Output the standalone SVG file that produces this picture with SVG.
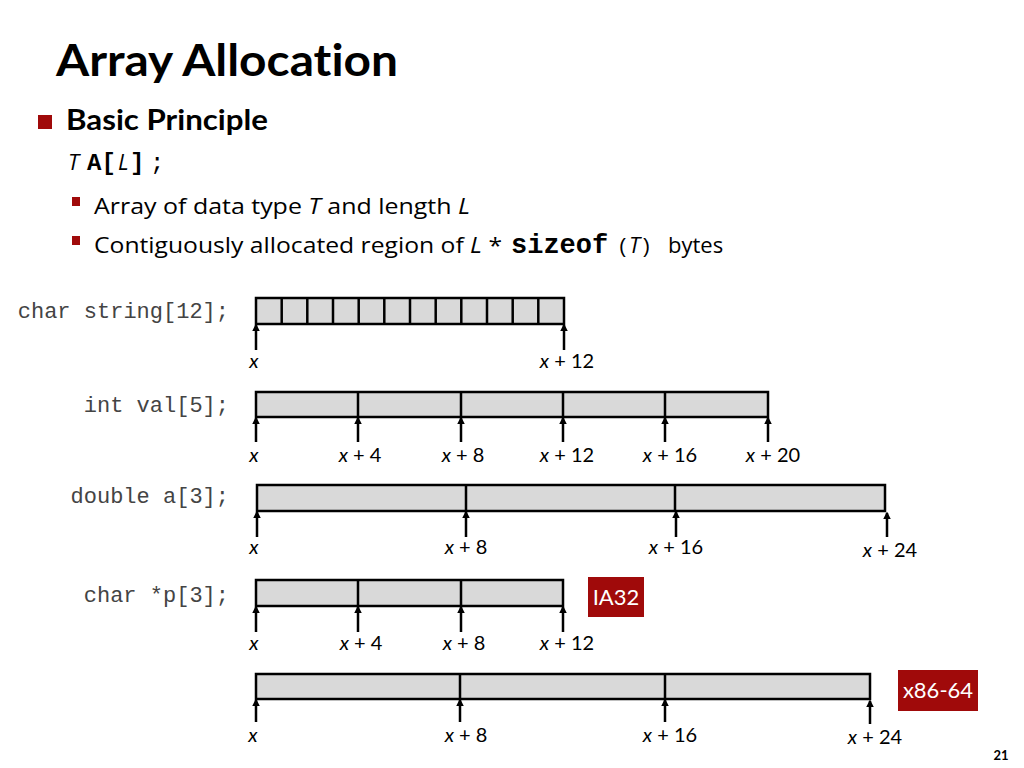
<svg xmlns="http://www.w3.org/2000/svg" width="1024" height="768" viewBox="0 0 1024 768">
<style>
text{font-variant-ligatures:none}
.sans{font-family:Lato,"Open Sans","Liberation Sans",sans-serif;fill:#000}
.body{font-family:"Open Sans","Noto Sans","Liberation Sans",sans-serif;fill:#000}
.mono{font-family:"Liberation Mono","Courier New",monospace}
.code{font-family:"Liberation Mono","Courier New",monospace;font-size:22px;fill:#444;text-anchor:end}
.lbl{font-family:Lato,"Open Sans","Liberation Sans",sans-serif;font-size:20px;text-anchor:middle;fill:#000}
.it{font-style:italic}
.box{fill:#D9D9D9;stroke:#000;stroke-width:2.5}
.div{stroke:#000;stroke-width:2.5}
.arr{stroke:#000;stroke-width:2.5;marker-end:url(#ah)}
.tag{fill:#A00A0A}
.tagt{font-family:Lato,"Open Sans","Liberation Sans",sans-serif;font-size:22px;fill:#fff;text-anchor:middle}
</style>
<defs>
<marker id="ah" viewBox="0 0 10 10" refX="8" refY="5" markerWidth="3" markerHeight="3" orient="auto" markerUnits="strokeWidth">
<path d="M0,0 L10,5 L0,10 z" fill="#000"/>
</marker>
</defs>
<rect width="1024" height="768" fill="#fff"/>

<g id="title">
<text class="sans" x="56" y="76" font-size="43" font-weight="bold" textLength="342" lengthAdjust="spacingAndGlyphs">Array Allocation</text>
</g>
<g id="bullets">
<rect x="38" y="115" width="14" height="14" fill="#A00A0A"/>
<text class="sans" x="66" y="130" font-size="29" font-weight="bold" textLength="202" lengthAdjust="spacingAndGlyphs">Basic Principle</text>
<text x="68" y="170" font-size="24"><tspan class="body it" font-size="22">T</tspan><tspan class="mono" font-weight="bold" x="87">A[</tspan><tspan class="body it" font-size="22" x="118">L</tspan><tspan class="mono" font-weight="bold" x="130">]</tspan><tspan class="mono" x="150">;</tspan></text>
<rect x="72" y="197" width="8" height="9" fill="#A00A0A"/>
<text class="body" x="94" y="214" font-size="22" textLength="376" lengthAdjust="spacingAndGlyphs">Array of data type <tspan class="it">T</tspan> and length <tspan class="it">L</tspan></text>
<rect x="72" y="236" width="8" height="9" fill="#A00A0A"/>
<text class="body" x="94" y="253" font-size="22"><tspan textLength="408" lengthAdjust="spacingAndGlyphs">Contiguously allocated region of <tspan class="it">L</tspan> *</tspan><tspan class="mono" font-weight="bold" font-size="27" x="511">sizeof</tspan><tspan class="mono" font-size="20" x="617">(</tspan><tspan class="it" x="629">T</tspan><tspan class="mono" font-size="20" x="640">)</tspan><tspan x="668">bytes</tspan></text>
</g>

<g id="row-string">
<text class="code" x="229" y="318">char string[12];</text>
<rect class="box" x="256" y="298" width="308" height="26"/>
<path class="div" d="M281.7,298V324M307.3,298V324M333,298V324M358.7,298V324M384.3,298V324M410,298V324M435.7,298V324M461.3,298V324M487,298V324M512.7,298V324M538.3,298V324"/>
<text class="lbl" x="254" y="368"><tspan class="it">x</tspan></text>
<text class="lbl" x="567" y="368"><tspan class="it">x</tspan> + 12</text>
</g>

<g id="row-int">
<text class="code" x="229" y="412">int val[5];</text>
<rect class="box" x="256" y="392" width="512" height="25"/>
<path class="div" d="M358,392V417M461,392V417M563,392V417M665,392V417"/>
<text class="lbl" x="254" y="462"><tspan class="it">x</tspan></text>
<text class="lbl" x="360" y="462"><tspan class="it">x</tspan> + 4</text>
<text class="lbl" x="463" y="462"><tspan class="it">x</tspan> + 8</text>
<text class="lbl" x="567" y="462"><tspan class="it">x</tspan> + 12</text>
<text class="lbl" x="670" y="462"><tspan class="it">x</tspan> + 16</text>
<text class="lbl" x="773" y="462"><tspan class="it">x</tspan> + 20</text>
</g>

<g id="row-double">
<text class="code" x="229" y="503">double a[3];</text>
<rect class="box" x="257" y="485" width="628" height="26"/>
<path class="div" d="M466,485V511M675,485V511"/>
<text class="lbl" x="254" y="554"><tspan class="it">x</tspan></text>
<text class="lbl" x="466" y="554"><tspan class="it">x</tspan> + 8</text>
<text class="lbl" x="676" y="554"><tspan class="it">x</tspan> + 16</text>
<text class="lbl" x="890" y="557" font-size="23"><tspan class="it">x</tspan> + 24</text>
</g>

<g id="row-ptr32">
<text class="code" x="229" y="602">char *p[3];</text>
<rect class="box" x="256" y="580" width="307" height="26"/>
<path class="div" d="M358,580V606M461,580V606"/>
<text class="lbl" x="254" y="650"><tspan class="it">x</tspan></text>
<text class="lbl" x="361" y="650"><tspan class="it">x</tspan> + 4</text>
<text class="lbl" x="464" y="650"><tspan class="it">x</tspan> + 8</text>
<text class="lbl" x="567" y="650"><tspan class="it">x</tspan> + 12</text>
</g>

<g id="tag-ia32">
<rect class="tag" x="588" y="577" width="56" height="40"/>
<text class="tagt" x="616" y="605">IA32</text>
</g>

<g id="row-ptr64">
<rect class="box" x="256" y="674" width="614" height="25"/>
<path class="div" d="M460,674V699M665,674V699"/>
<text class="lbl" x="253" y="742"><tspan class="it">x</tspan></text>
<text class="lbl" x="466" y="742"><tspan class="it">x</tspan> + 8</text>
<text class="lbl" x="670" y="742"><tspan class="it">x</tspan> + 16</text>
<text class="lbl" x="875" y="744"><tspan class="it">x</tspan> + 24</text>
</g>

<g id="tag-x8664">
<rect class="tag" x="898" y="670" width="80" height="41"/>
<text class="tagt" x="938" y="698">x86-64</text>
</g>

<g id="connectors">
<line class="arr" x1="256" y1="350" x2="256" y2="325"/>
<line class="arr" x1="564" y1="350" x2="564" y2="325"/>

<line class="arr" x1="256" y1="442" x2="256" y2="418"/>
<line class="arr" x1="358" y1="442" x2="358" y2="418"/>
<line class="arr" x1="461" y1="442" x2="461" y2="418"/>
<line class="arr" x1="563" y1="442" x2="563" y2="418"/>
<line class="arr" x1="665" y1="442" x2="665" y2="418"/>
<line class="arr" x1="768" y1="442" x2="768" y2="418"/>

<line class="arr" x1="257" y1="537" x2="257" y2="512"/>
<line class="arr" x1="466" y1="537" x2="466" y2="512"/>
<line class="arr" x1="676" y1="537" x2="676" y2="512"/>
<line class="arr" x1="887" y1="537" x2="887" y2="513"/>

<line class="arr" x1="256" y1="632" x2="256" y2="607"/>
<line class="arr" x1="358" y1="632" x2="358" y2="607"/>
<line class="arr" x1="461" y1="632" x2="461" y2="607"/>
<line class="arr" x1="563" y1="632" x2="563" y2="607"/>

<line class="arr" x1="256" y1="722" x2="256" y2="700"/>
<line class="arr" x1="460" y1="722" x2="460" y2="700"/>
<line class="arr" x1="665" y1="722" x2="665" y2="700"/>
<line class="arr" x1="870" y1="724" x2="870" y2="701"/>
</g>

<g id="page">
<text class="sans" x="1001" y="760" font-size="13" font-weight="bold" text-anchor="middle">21</text>
</g>
</svg>
